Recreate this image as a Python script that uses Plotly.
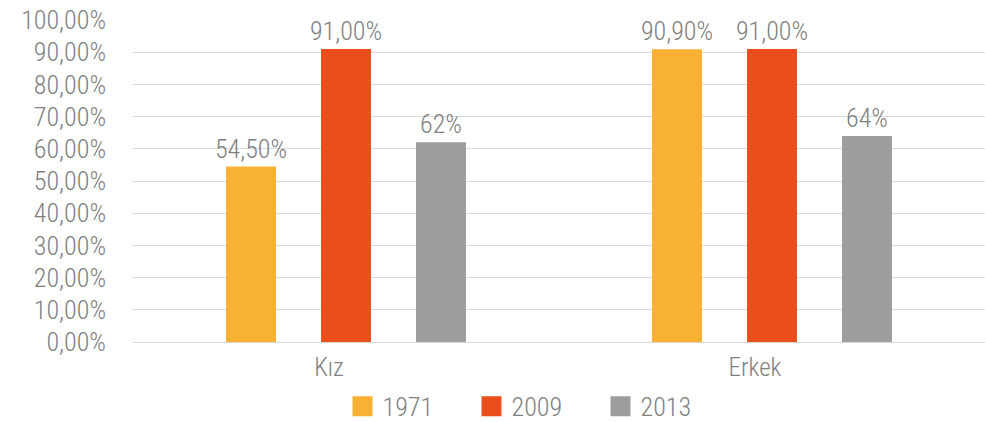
import plotly.graph_objects as go

categories = ["Kız", "Erkek"]
years = ["1971", "2009", "2013"]
values_1971 = [0.545, 0.909]
values_2009 = [0.91, 0.91]
values_2013 = [0.62, 0.64]
labels_1971 = ["54,50%", "90,90%"]
labels_2009 = ["91,00%", "91,00%"]
labels_2013 = ["62%", "64%"]
colors = ["#F8B133", "#E94E1B", "#9D9D9C"]
y_ticks = [i / 10 for i in range(11)]
y_tick_labels = [f"{i*10},00%" for i in range(11)]

FONT = "Roboto Condensed, Liberation Sans, Arial, sans-serif"
GREY = "#808080"
FS = 26
W = 300

fig = go.Figure()
for name, vals, labs, col in zip(years, [values_1971, values_2009, values_2013],
                                 [labels_1971, labels_2009, labels_2013], colors):
    fig.add_trace(go.Bar(
        x=categories, y=vals, name=name, marker=dict(color=col, line=dict(width=0)),
        text=labs, textposition="outside", cliponaxis=False, constraintext="none",
        textfont=dict(family=FONT, size=FS, color=GREY, weight=W),
        showlegend=False, hoverinfo="skip",
    ))
    fig.add_trace(go.Scatter(
        x=[None], y=[None], mode="markers", name=name,
        marker=dict(symbol="square", size=22, color=col, line=dict(color=col, width=4)),
    ))

fig.update_layout(
    width=986, height=422,
    margin=dict(l=133, r=1, t=20, b=80, autoexpand=False),
    paper_bgcolor="white", plot_bgcolor="white",
    barmode="group", bargap=0.331, bargroupgap=0.474,
    font=dict(family=FONT, size=FS, color=GREY, weight=W),
    legend=dict(orientation="h", x=0.473, xanchor="center", y=-0.2, yanchor="middle",
                font=dict(family=FONT, size=FS, color=GREY, weight=W),
                itemsizing="trace", itemwidth=30, entrywidth=84, tracegroupgap=0),
    xaxis=dict(showgrid=False, showline=True, linecolor="#D9D9D9", linewidth=1,
               ticks="", tickfont=dict(family=FONT, size=25, color=GREY, weight=W),
               ticklabelshift=-17, ticklabelstandoff=3, automargin=False),
    yaxis=dict(range=[0, 1.0], tickvals=y_ticks, ticktext=y_tick_labels,
               showgrid=True, gridcolor="#D9D9D9", gridwidth=1, zeroline=False,
               showline=False, tickfont=dict(family=FONT, size=FS, color=GREY, weight=W),
               ticklabelstandoff=26, automargin=False),
)

fig.write_html("out.html", config={"displayModeBar": False},
               post_script="document.body.style.margin='0';")
